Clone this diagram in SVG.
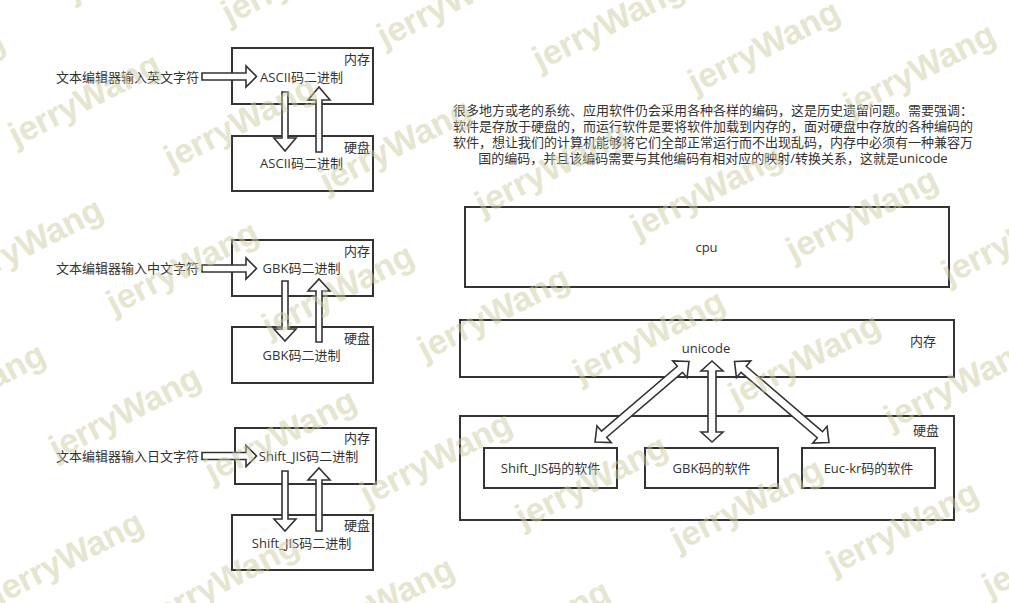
<svg xmlns="http://www.w3.org/2000/svg" width="1009" height="603" viewBox="0 0 1009 603">
<style>
.box{fill:#fff;stroke:#333;stroke-width:2}
.arr{fill:#fff;stroke:#333;stroke-width:1.6;stroke-linejoin:miter}
.t{font-family:"Open Sans","Noto Sans CJK SC",sans-serif;font-size:13px;fill:#333}
.c{text-anchor:middle}
.e{text-anchor:end}
.wm{font-family:"Liberation Sans",Arial,sans-serif;font-weight:bold;font-size:34px;fill:#cdcda2;opacity:0.5}
</style>
<rect width="1009" height="603" fill="#fff"/>

<g id="ascii-mem"><rect class="box" x="232" y="48" width="141" height="56"/><text class="t e" x="370" y="63.5">内存</text><text class="t c" x="301.5" y="81.5">ASCII码二进制</text></g>
<g id="ascii-disk"><rect class="box" x="232" y="136" width="141" height="55"/><text class="t e" x="370" y="151.5">硬盘</text><text class="t c" x="301.5" y="168">ASCII码二进制</text></g>
<g id="input-en"><text class="t" x="56" y="81.5">文本编辑器输入英文字符</text></g>

<g id="gbk-mem"><rect class="box" x="232" y="240" width="141" height="56"/><text class="t e" x="370" y="256">内存</text><text class="t c" x="301.5" y="273">GBK码二进制</text></g>
<g id="gbk-disk"><rect class="box" x="232" y="327" width="141" height="56"/><text class="t e" x="370" y="342.5">硬盘</text><text class="t c" x="301.5" y="360">GBK码二进制</text></g>
<g id="input-zh"><text class="t" x="56" y="273">文本编辑器输入中文字符</text></g>

<g id="sjis-mem"><rect class="box" x="235" y="428" width="141" height="56"/><text class="t e" x="370" y="443">内存</text><text class="t c" x="308.5" y="460.5">Shift_JIS码二进制</text></g>
<g id="sjis-disk"><rect class="box" x="232" y="515" width="141" height="55"/><text class="t e" x="370" y="529.5">硬盘</text><text class="t c" x="301.5" y="547.5">Shift_JIS码二进制</text></g>
<g id="input-ja"><text class="t" x="56" y="460.5">文本编辑器输入日文字符</text></g>

<g id="note">
<text class="t c" x="713" y="114.5">很多地方或老的系统、应用软件仍会采用各种各样的编码，这是历史遗留问题。需要强调：</text>
<text class="t c" x="713" y="131">软件是存放于硬盘的，而运行软件是要将软件加载到内存的，面对硬盘中存放的各种编码的</text>
<text class="t c" x="713" y="147">软件，想让我们的计算机能够将它们全部正常运行而不出现乱码，内存中必须有一种兼容万</text>
<text class="t c" x="713" y="163">国的编码，并且该编码需要与其他编码有相对应的映射/转换关系，这就是unicode</text>
</g>

<g id="cpu"><rect class="box" x="465" y="207" width="484" height="80"/><text class="t c" x="706.5" y="252">cpu</text></g>
<g id="memory"><rect class="box" x="460" y="320" width="494" height="57"/><text class="t c" x="706" y="353">unicode</text><text class="t e" x="936" y="345.5">内存</text></g>
<g id="disk"><rect class="box" x="460" y="416" width="494" height="104"/><text class="t e" x="939" y="434.5">硬盘</text></g>
<g id="sw-sjis"><rect class="box" x="484" y="448" width="133" height="40"/><text class="t c" x="550.5" y="472.5">Shift_JIS码的软件</text></g>
<g id="sw-gbk"><rect class="box" x="645" y="448" width="133" height="40"/><text class="t c" x="711.5" y="472.5">GBK码的软件</text></g>
<g id="sw-euckr"><rect class="box" x="802" y="448" width="133" height="40"/><text class="t c" x="868.5" y="472.5">Euc-kr码的软件</text></g>

<g id="connectors">
<polygon class="arr" points="202,73 246,73 246,66 256.5,76.5 246,87 246,80 202,80"/>
<polygon class="arr" points="282,92 288,92 288,138 296,138 285,151 274,138 282,138"/>
<polygon class="arr" points="316,152 322,152 322,100 330,100 319,87 308,100 316,100"/>
<polygon class="arr" points="202,265 246,265 246,258 256.5,268.5 246,279 246,272 202,272"/>
<polygon class="arr" points="282,281 288,281 288,329 296,329 285,341 274,329 282,329"/>
<polygon class="arr" points="316,342 322,342 322,291 330,291 319,279 308,291 316,291"/>
<polygon class="arr" points="202,452.5 246,452.5 246,445.5 256.5,456 246,466.5 246,459.5 202,459.5"/>
<polygon class="arr" points="282,471 288,471 288,519 296,519 285,531 274,519 282,519"/>
<polygon class="arr" points="316,531 322,531 322,480 330,480 319,468 308,480 316,480"/>
<polygon class="arr" points="712,361 723,371 716,371 716,432 723,432 712,442 701,432 708,432 708,371 701,371"/>
<polygon class="arr" points="689,361.5 687.04,377.65 682.49,372.34 606.71,437.24 611.26,442.55 595,442 596.96,425.85 601.51,431.16 677.29,366.26 672.74,360.95"/>
<polygon class="arr" points="734.5,361.5 736.45,377.66 741.01,372.35 817.29,437.73 812.73,443.04 829,442.5 827.05,426.34 822.49,431.65 746.21,366.27 750.77,360.96"/>
</g>

<g id="watermark">
<text class="wm" x="73.5" y="2" transform="rotate(-27 73.5 2)">jerryWang</text>
<text class="wm" x="229" y="25" transform="rotate(-27 229 25)">jerryWang</text>
<text class="wm" x="384.5" y="48" transform="rotate(-27 384.5 48)">jerryWang</text>
<text class="wm" x="540" y="71" transform="rotate(-27 540 71)">jerryWang</text>
<text class="wm" x="695.5" y="94" transform="rotate(-27 695.5 94)">jerryWang</text>
<text class="wm" x="851" y="117" transform="rotate(-27 851 117)">jerryWang</text>
<text class="wm" x="-139.5" y="124" transform="rotate(-27 -139.5 124)">jerryWang</text>
<text class="wm" x="16" y="147" transform="rotate(-27 16 147)">jerryWang</text>
<text class="wm" x="171.5" y="170" transform="rotate(-27 171.5 170)">jerryWang</text>
<text class="wm" x="327" y="193" transform="rotate(-27 327 193)">jerryWang</text>
<text class="wm" x="482.5" y="216" transform="rotate(-27 482.5 216)">jerryWang</text>
<text class="wm" x="638" y="239" transform="rotate(-27 638 239)">jerryWang</text>
<text class="wm" x="793.5" y="262" transform="rotate(-27 793.5 262)">jerryWang</text>
<text class="wm" x="949" y="285" transform="rotate(-27 949 285)">jerryWang</text>
<text class="wm" x="-41.5" y="292" transform="rotate(-27 -41.5 292)">jerryWang</text>
<text class="wm" x="114" y="315" transform="rotate(-27 114 315)">jerryWang</text>
<text class="wm" x="269.5" y="338" transform="rotate(-27 269.5 338)">jerryWang</text>
<text class="wm" x="425" y="361" transform="rotate(-27 425 361)">jerryWang</text>
<text class="wm" x="580.5" y="384" transform="rotate(-27 580.5 384)">jerryWang</text>
<text class="wm" x="736" y="407" transform="rotate(-27 736 407)">jerryWang</text>
<text class="wm" x="891.5" y="430" transform="rotate(-27 891.5 430)">jerryWang</text>
<text class="wm" x="-99" y="437" transform="rotate(-27 -99 437)">jerryWang</text>
<text class="wm" x="56.5" y="460" transform="rotate(-27 56.5 460)">jerryWang</text>
<text class="wm" x="212" y="483" transform="rotate(-27 212 483)">jerryWang</text>
<text class="wm" x="367.5" y="506" transform="rotate(-27 367.5 506)">jerryWang</text>
<text class="wm" x="523" y="529" transform="rotate(-27 523 529)">jerryWang</text>
<text class="wm" x="678.5" y="552" transform="rotate(-27 678.5 552)">jerryWang</text>
<text class="wm" x="834" y="575" transform="rotate(-27 834 575)">jerryWang</text>
<text class="wm" x="989.5" y="598" transform="rotate(-27 989.5 598)">jerryWang</text>
<text class="wm" x="-156" y="582" transform="rotate(-27 -156 582)">jerryWang</text>
<text class="wm" x="-1" y="605" transform="rotate(-27 -1 605)">jerryWang</text>
<text class="wm" x="154.5" y="628" transform="rotate(-27 154.5 628)">jerryWang</text>
<text class="wm" x="310" y="651" transform="rotate(-27 310 651)">jerryWang</text>
<text class="wm" x="465.5" y="674" transform="rotate(-27 465.5 674)">jerryWang</text>
<text class="wm" x="621" y="697" transform="rotate(-27 621 697)">jerryWang</text>
</g>
</svg>
